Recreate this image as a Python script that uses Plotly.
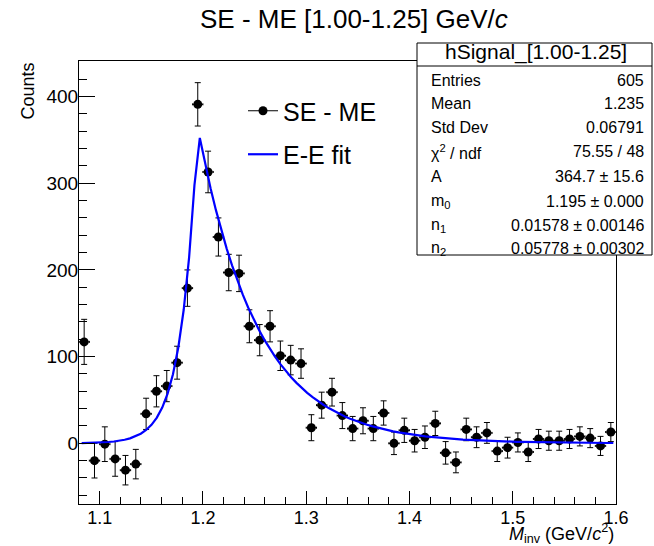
import numpy as np
import plotly.graph_objects as go

# ---- data ----
bin_centers = [1.085, 1.095, 1.105, 1.115, 1.125, 1.135, 1.145, 1.155, 1.165, 1.175,
               1.185, 1.195, 1.205, 1.215, 1.225, 1.235, 1.245, 1.255, 1.265, 1.275,
               1.285, 1.295, 1.305, 1.315, 1.325, 1.335, 1.345, 1.355, 1.365, 1.375,
               1.385, 1.395, 1.405, 1.415, 1.425, 1.435, 1.445, 1.455, 1.465, 1.475,
               1.485, 1.495, 1.505, 1.515, 1.525, 1.535, 1.545, 1.555, 1.565, 1.575,
               1.585, 1.595]
counts = [117, -20, -1, -18, -31, -24, 34, 60, 66, 93,
          179, 391, 313, 238, 197, 196, 135, 119, 135, 101,
          96, 92, 18, 44, 59, 32, 17, 26, 17, 35,
          0, 15, 3, 7, 23, -11, -22, 16, 7, 12,
          -9, -5, 1, -10, 5, 3, 3, 5, 8, 6,
          -3, 13]
count_errors = [26, 20, 20, 20, 17, 17, 18, 18, 18, 19,
                21, 25, 24, 22, 21, 21, 19, 18, 18, 17,
                17, 17, 15, 15, 16, 15, 14, 15, 14, 14,
                13, 14, 13, 13, 14, 13, 12, 13, 12, 12,
                12, 12, 11, 11, 11, 11, 11, 11, 11, 11,
                11, 11]
half_bin = 0.005

# fit parameters (from stats box)
fit_A = 364.7
fit_m0 = 1.195
fit_n1 = 0.01578
fit_n2 = 0.05778
fit_range = (1.08, 1.6)
fit_npx = 100

stats_labels = ["Entries", "Mean", "Std Dev", "χ<sup>2</sup> / ndf", "A",
                "m<sub>0</sub>", "n<sub>1</sub>", "n<sub>2</sub>"]
stats_values = ["605", "1.235", "0.06791", "75.55 / 48", "364.7 ± 15.6",
                "1.195 ± 0.000", "0.01578 ± 0.00146", "0.05778 ± 0.00302"]

# fit curve evaluated like ROOT's TF1 drawing (centres of npx sampling cells)
step = (fit_range[1] - fit_range[0]) / fit_npx
x_fit = fit_range[0] + (np.arange(fit_npx) + 0.5) * step
y_fit = np.where(x_fit < fit_m0,
                 fit_A * np.exp((x_fit - fit_m0) / fit_n1),
                 fit_A * np.exp(-(x_fit - fit_m0) / fit_n2))

FONT = "Liberation Sans, Arial, sans-serif"

W, H = 654, 546
L, R, T, B = 79, 38, 61, 42
pw, ph = W - L - R, H - T - B


def px(xp):
    return (xp - L) / pw


def py(yp):
    return (H - B - yp) / ph


fig = go.Figure()

fig.add_trace(go.Scatter(
    x=bin_centers, y=counts, mode="markers",
    marker=dict(color="black", size=9),
    error_y=dict(type="data", array=count_errors, color="black", thickness=1, width=3),
    error_x=dict(type="constant", value=half_bin, color="black", thickness=1, width=1),
    showlegend=False, hoverinfo="x+y"))

fig.add_trace(go.Scatter(
    x=x_fit, y=y_fit, mode="lines",
    line=dict(color="#0000ff", width=2.2),
    showlegend=False))

# legend entries
fig.add_trace(go.Scatter(
    x=[None], y=[None], mode="lines+markers", name="SE - ME",
    line=dict(color="black", width=1), marker=dict(color="black", size=9),
    legendgroup="a"))
fig.add_trace(go.Scatter(
    x=[None], y=[None], mode="lines", name="E-E fit",
    line=dict(color="#0000ff", width=2.2), legendgroup="b"))

shapes = [
    dict(type="rect", xref="paper", yref="paper", x0=px(417), x1=px(652), y0=py(255), y1=py(43),
         line=dict(color="black", width=1), fillcolor="white", layer="above"),
    dict(type="line", xref="paper", yref="paper", x0=px(417), x1=px(652), y0=py(66), y1=py(66),
         line=dict(color="black", width=1), layer="above"),
]

annotations = [
    dict(text="SE - ME [1.00-1.25] GeV/<i>c</i>", x=px(354), y=py(19), xref="paper", yref="paper",
         xanchor="center", yanchor="middle", showarrow=False, font=dict(family=FONT, size=26, color="black")),
    dict(text="hSignal_[1.00-1.25]", x=px(536), y=py(52.5), xref="paper", yref="paper",
         xanchor="center", yanchor="middle", showarrow=False, font=dict(family=FONT, size=21, color="black")),
    dict(text="Counts", x=px(27), y=1.0, xref="paper", yref="paper", textangle=-90,
         xanchor="center", yanchor="top", showarrow=False, font=dict(family=FONT, size=18, color="black")),
    dict(text="<i>M</i><sub>inv</sub> (GeV/<i>c</i><sup>2</sup>)", x=1.0, y=py(533), xref="paper", yref="paper",
         xanchor="right", yanchor="middle", showarrow=False, font=dict(family=FONT, size=18, color="black")),
]

row_y = [80, 103.3, 127.7, 151.7, 176.7, 201.7, 225, 248]
for lab, val, yy in zip(stats_labels, stats_values, row_y):
    annotations.append(dict(text=lab, x=px(429), y=py(yy), xref="paper", yref="paper",
                            xanchor="left", yanchor="middle", showarrow=False,
                            font=dict(family=FONT, size=16, color="black")))
    annotations.append(dict(text=val, x=px(646), y=py(yy), xref="paper", yref="paper",
                            xanchor="right", yanchor="middle", showarrow=False,
                            font=dict(family=FONT, size=16, color="black")))

fig.update_layout(
    width=W, height=H,
    margin=dict(l=L, r=R, t=T, b=B, pad=0),
    paper_bgcolor="white", plot_bgcolor="white",
    font=dict(family=FONT, size=17, color="black"),
    showlegend=True,
    legend=dict(x=px(243), y=py(88), xanchor="left", yanchor="top",
                font=dict(family=FONT, size=25, color="black"),
                bgcolor="rgba(0,0,0,0)", tracegroupgap=8, itemwidth=30),
    shapes=shapes, annotations=annotations,
    xaxis=dict(range=[1.08, 1.6], tick0=1.1, dtick=0.1, tickformat=".1f",
               showgrid=False, zeroline=False, showline=True, linecolor="black", linewidth=1,
               mirror=True, ticks="inside", ticklen=13, tickcolor="black",
               minor=dict(ticks="inside", ticklen=7, dtick=0.02, tick0=1.1, tickcolor="black", showgrid=False),
               tickfont=dict(family=FONT, size=18, color="black"), ticklabelstandoff=-3),
    yaxis=dict(range=[-70, 441], tick0=0, dtick=100,
               showgrid=False, zeroline=False, showline=True, linecolor="black", linewidth=1,
               mirror=True, ticks="inside", ticklen=16, tickcolor="black",
               minor=dict(ticks="inside", ticklen=8, dtick=20, tick0=0, tickcolor="black", showgrid=False),
               tickfont=dict(family=FONT, size=19, color="black"), ticklabelstandoff=-4),
)

fig.write_html("out.html", config={"displayModeBar": False},
               post_script="document.body.style.margin='0';document.body.style.overflow='hidden';")
